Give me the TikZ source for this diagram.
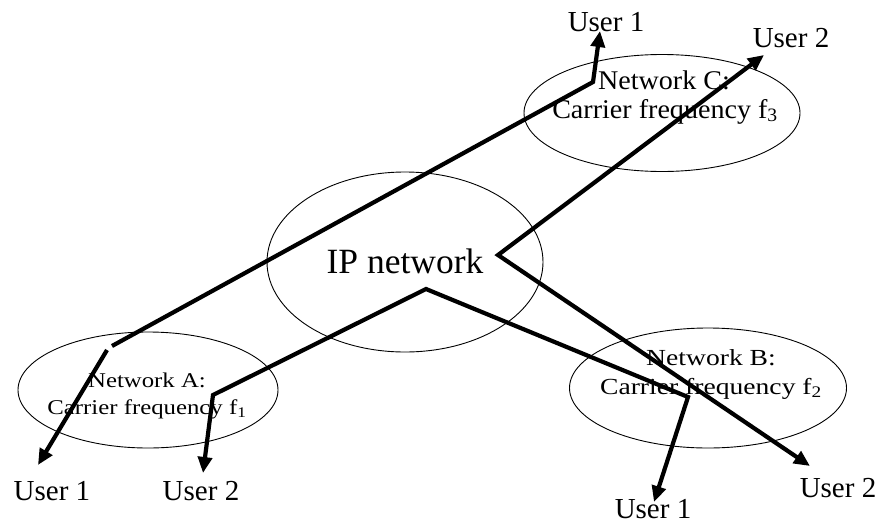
\documentclass[tikz,border=0pt]{standalone}
\usepackage{fontspec}
\usepackage{graphicx}
\setmainfont{Liberation Serif}
\usetikzlibrary{shapes.geometric,arrows.meta}
\begin{document}
\begin{tikzpicture}[x=1pt,y=-1pt,
  net/.style={ellipse,draw,line width=0.9pt,inner sep=0pt},
  link/.style={line width=4.2pt,line join=miter},
  tip/.tip={Triangle[length=16pt,width=14pt]},
  arr/.style={link,-tip},
  darr/.style={link,tip-tip},
  user/.style={anchor=base,font=\fontsize{29}{30}\selectfont,inner sep=0pt},
  lab/.style={anchor=base,inner sep=0pt}]
\useasboundingbox (0,0) rectangle (880,525);
% networks
\node[net,minimum width=276pt,minimum height=180pt] (ip) at (405,262) {};
\node[net,minimum width=276pt,minimum height=117pt] (netC) at (662,113) {};
\node[net,minimum width=260pt,minimum height=116pt] (netA) at (148,390) {};
\node[net,minimum width=277pt,minimum height=120pt] (netB) at (708,388) {};
% network labels
\node[lab,font=\fontsize{35.5}{36}\selectfont] (iplab) at (405,273) {IP network};
\node[lab,font=\fontsize{27}{28}\selectfont] (cl1) at (664,89) {\scalebox{1.04}[1]{Network C:}};
\node[lab,font=\fontsize{27}{28}\selectfont] (cl2) at (665,118) {\scalebox{1.04}[1]{Carrier frequency f\textsubscript{3}}};
\node[lab,font=\fontsize{21}{22}\selectfont] (al1) at (147,387) {\scalebox{1.18}[1]{Network A:}};
\node[lab,font=\fontsize{21}{22}\selectfont] (al2) at (147,414) {\scalebox{1.18}[1]{Carrier frequency f\textsubscript{1}}};
\node[lab,font=\fontsize{23}{24}\selectfont] (bl1) at (711,365) {\scalebox{1.2}[1]{Network B:}};
\node[lab,font=\fontsize{23}{24}\selectfont] (bl2) at (711,394) {\scalebox{1.2}[1]{Carrier frequency f\textsubscript{2}}};
% users
\node[user] (uc1) at (606,31) {User 1};
\node[user] (uc2) at (791,47) {User 2};
\node[user] (ua1) at (52,500) {User 1};
\node[user] (ua2) at (201,500) {User 2};
\node[user] (ub1) at (653,518) {User 1};
\node[user] (ub2) at (838,497) {User 2};
% path points
\coordinate (a1s) at (107,350);
\coordinate (a1t) at (38,465);
\coordinate (a1c) at (112,346);
\coordinate (c1c) at (593,82);
\coordinate (c1t) at (600,31);
\coordinate (a2t) at (203,473);
\coordinate (a2c) at (213,395);
\coordinate (ipb) at (426,289);
\coordinate (b1c) at (688,397);
\coordinate (b1t) at (654,502);
\coordinate (c2t) at (764,55);
\coordinate (ipr) at (498,255);
\coordinate (b2t) at (810,466);
% connectors
\draw[arr] (a1s) -- (a1t);
\draw[arr] (a1c) -- (c1c) -- (c1t);
\draw[darr] (a2t) -- (a2c) -- (ipb) -- (b1c) -- (b1t);
\draw[darr] (c2t) -- (ipr) -- (b2t);
\end{tikzpicture}
\end{document}
